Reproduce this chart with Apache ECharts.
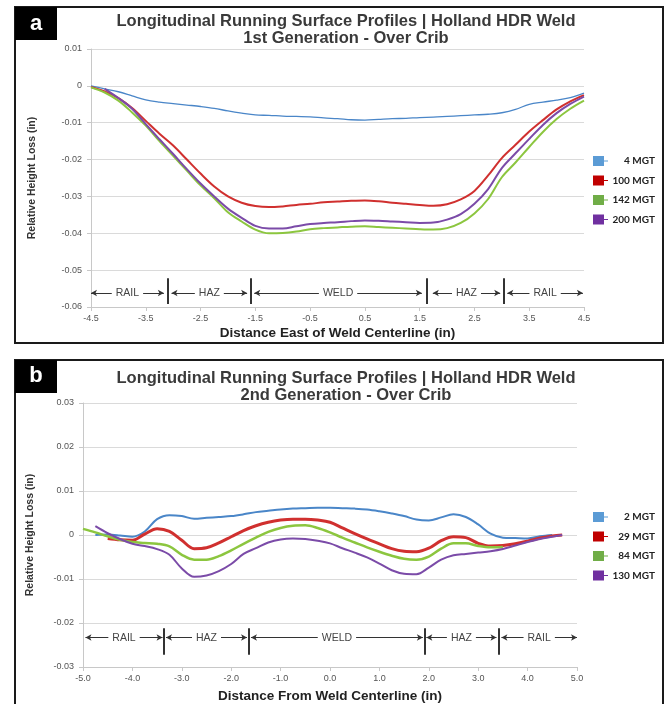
<!DOCTYPE html>
<html><head><meta charset="utf-8">
<script src="https://cdn.jsdelivr.net/npm/echarts@6/dist/echarts.min.js"></script>
<style>html,body{margin:0;padding:0;background:#fff}#c{width:668px;height:704px}</style>
</head><body><div id="c"></div>
<script>
// ---------- Panel a data ----------
const aX = [-4.5,-4.25,-4.0,-3.75,-3.5,-3.25,-3.0,-2.75,-2.5,-2.25,-2.0,-1.75,-1.5,-1.25,-1.0,-0.75,-0.5,-0.25,0,0.25,0.5,0.75,1.0,1.25,1.5,1.75,2.0,2.25,2.5,2.75,3.0,3.25,3.5,3.75,4.0,4.25,4.5];
const aNames = ['4 MGT','100 MGT','142 MGT','200 MGT'];
const a4   = [0,-0.0008,-0.0016,-0.0027,-0.0038,-0.0044,-0.0048,-0.0052,-0.0056,-0.0061,-0.0068,-0.0074,-0.0079,-0.0080,-0.0082,-0.0083,-0.0084,-0.0087,-0.0089,-0.0092,-0.0093,-0.0091,-0.0089,-0.0088,-0.0086,-0.0085,-0.0083,-0.0081,-0.0079,-0.0077,-0.0073,-0.0064,-0.0050,-0.0044,-0.0039,-0.0032,-0.0020];
const a100 = [-0.0003,-0.0015,-0.0033,-0.0060,-0.0095,-0.0130,-0.0162,-0.0200,-0.0238,-0.0273,-0.0300,-0.0317,-0.0326,-0.0329,-0.0327,-0.0323,-0.0320,-0.0316,-0.0314,-0.0312,-0.0311,-0.0313,-0.0317,-0.0320,-0.0323,-0.0325,-0.0321,-0.0308,-0.0285,-0.0243,-0.0196,-0.0160,-0.0124,-0.0093,-0.0064,-0.0042,-0.0025];
const a142 = [-0.0004,-0.0018,-0.0040,-0.0072,-0.0108,-0.0150,-0.0190,-0.0230,-0.0270,-0.0305,-0.0343,-0.0368,-0.0390,-0.0400,-0.0399,-0.0395,-0.0389,-0.0386,-0.0384,-0.0382,-0.0381,-0.0383,-0.0385,-0.0387,-0.0389,-0.0390,-0.0386,-0.0372,-0.0346,-0.0307,-0.0248,-0.0208,-0.0166,-0.0125,-0.0090,-0.0062,-0.0040];
const a200 = [null,-0.0008,-0.0033,-0.0062,-0.0104,-0.0145,-0.0185,-0.0226,-0.0265,-0.0300,-0.0333,-0.0358,-0.0380,-0.0387,-0.0387,-0.0381,-0.0375,-0.0372,-0.0370,-0.0367,-0.0365,-0.0366,-0.0368,-0.0370,-0.0372,-0.0371,-0.0363,-0.0348,-0.0320,-0.0280,-0.0223,-0.0183,-0.0144,-0.0106,-0.0074,-0.0049,-0.0029];
const aZoneNames = ['RAIL','HAZ','WELD','HAZ','RAIL'];
const aZoneStart = [-4.5,-3.03,-1.52,1.74,3.1];
const aZoneEnd   = [-3.17,-1.65,1.54,2.97,4.48];
const aBounds = [-3.1,-1.58,1.63,3.04];

// ---------- Panel b data ----------
const bX = [-5.0,-4.75,-4.5,-4.25,-4.0,-3.75,-3.5,-3.25,-3.0,-2.75,-2.5,-2.25,-2.0,-1.75,-1.5,-1.25,-1.0,-0.75,-0.5,-0.25,0,0.25,0.5,0.75,1.0,1.25,1.5,1.75,2.0,2.25,2.5,2.75,3.0,3.25,3.5,3.75,4.0,4.25,4.5,4.7];
const bNames = ['2 MGT','29 MGT','84 MGT','130 MGT'];
const b2   = [null,0.0000,0.0001,-0.0001,-0.0004,0.0008,0.0036,0.0045,0.0043,0.0037,0.0039,0.0041,0.0043,0.0047,0.0052,0.0055,0.0058,0.0060,0.0061,0.0062,0.0062,0.0061,0.0060,0.0058,0.0054,0.0049,0.0043,0.0035,0.0033,0.0040,0.0047,0.0041,0.0024,0.0003,-0.0006,-0.0007,-0.0008,-0.0003,0.0000,null];
const b29  = [null,null,-0.0008,-0.0011,-0.0012,0.0002,0.0014,0.0008,-0.0012,-0.0031,-0.0029,-0.0018,-0.0004,0.0010,0.0021,0.0029,0.0034,0.0036,0.0036,0.0034,0.0029,0.0016,0.0003,-0.0009,-0.0020,-0.0031,-0.0037,-0.0038,-0.0030,-0.0013,-0.0004,-0.0006,-0.0019,-0.0025,-0.0024,-0.0020,-0.0014,-0.0007,-0.0002,0.0000];
const b84  = [0.0014,0.0006,-0.0003,-0.0011,-0.0016,-0.0018,-0.0020,-0.0026,-0.0045,-0.0056,-0.0056,-0.0048,-0.0035,-0.0020,-0.0006,0.0007,0.0016,0.0021,0.0022,0.0016,0.0006,-0.0006,-0.0017,-0.0028,-0.0038,-0.0047,-0.0054,-0.0056,-0.0049,-0.0031,-0.0019,-0.0019,-0.0025,-0.0028,-0.0027,null,null,null,null,null];
const b130 = [null,0.0020,0.0004,-0.0009,-0.0020,-0.0025,-0.0032,-0.0045,-0.0076,-0.0095,-0.0092,-0.0082,-0.0066,-0.0043,-0.0030,-0.0017,-0.0010,-0.0008,-0.0009,-0.0013,-0.0019,-0.0030,-0.0040,-0.0051,-0.0065,-0.0080,-0.0088,-0.0089,-0.0074,-0.0056,-0.0046,-0.0043,-0.0040,-0.0037,-0.0032,-0.0024,-0.0016,-0.0009,-0.0004,0.0000];
const bZoneNames = ['RAIL','HAZ','WELD','HAZ','RAIL'];
const bZoneStart = [-4.95,-3.32,-1.6,1.95,3.47];
const bZoneEnd   = [-3.39,-1.68,1.88,3.37,5.0];
const bBounds = [-3.36,-1.64,1.92,3.42];

// ---------- styles ----------
const lineColors = ['#4a86c8','#d0302f','#8cc63f','#7b4ba8'];
const legendColors = ['#5b9bd5','#c00000','#70ad47','#7030a0'];
const FONT = 'Liberation Sans';

function pairs(xs, ys){ return xs.map((x,i)=>[x, ys[i]]); }
function fmtY(v){ return String(Math.round(v*100)/100); }

function zoneLines(names, starts, ends, bounds, yArrow, yTop, yBot){
  const d = [];
  names.forEach((n,i)=>{
    d.push([{name:n, coord:[starts[i], yArrow]}, {coord:[ends[i], yArrow]}]);
  });
  bounds.forEach(b=>{
    d.push([{name:'', coord:[b, yTop], symbol:'none', lineStyle:{width:2, color:'#333'}, label:{show:false}},
            {coord:[b, yBot], symbol:'none'}]);
  });
  return d;
}

function markLineCfg(data){
  return {
    silent:true, animation:false,
    symbol:['arrow','arrow'], symbolSize:[5,6],
    lineStyle:{color:'#333', width:1, type:'solid'},
    label:{show:true, position:'middle', distance:-6, formatter:'{b}', color:'#444', fontSize:10.5, fontFamily:FONT,
           backgroundColor:'#fff', padding:[0,4]},
    emphasis:{disabled:true},
    data:data
  };
}

const widthsA = [1.3,2,2,2];
const widthsB = [2,3,2.5,2];
const aData = [a4,a100,a142,a200];
const bData = [b2,b29,b84,b130];

const series = [];
aNames.forEach((n,i)=>{
  const s = {type:'line', name:n, xAxisIndex:0, yAxisIndex:0, data:pairs(aX,aData[i]), showSymbol:false, smooth:0.35,
    lineStyle:{color:lineColors[i], width:widthsA[i]}, itemStyle:{color:lineColors[i]}};
  if(i===0) s.markLine = markLineCfg(zoneLines(aZoneNames,aZoneStart,aZoneEnd,aBounds,-0.0562,-0.0522,-0.0592));
  series.push(s);
});
bNames.forEach((n,i)=>{
  const s = {type:'line', name:n, xAxisIndex:1, yAxisIndex:1, data:pairs(bX,bData[i]), showSymbol:false, smooth:0.35,
    lineStyle:{color:lineColors[i], width:widthsB[i]}, itemStyle:{color:lineColors[i]}};
  if(i===0) s.markLine = markLineCfg(zoneLines(bZoneNames,bZoneStart,bZoneEnd,bBounds,-0.0233,-0.0212,-0.0272));
  series.push(s);
});

function yAxisCfg(idx, min, max, gap){
  return {gridIndex:idx, type:'value', min:min, max:max, interval:0.01,
    name:'Relative Height Loss (in)', nameLocation:'middle', nameGap:gap,
    nameTextStyle:{fontWeight:'bold', fontSize:10.5, fontFamily:FONT, color:'#333'},
    axisLine:{show:true, onZero:false, lineStyle:{color:'#c8c8c8'}},
    axisTick:{show:true, length:4, lineStyle:{color:'#c8c8c8'}},
    axisLabel:{fontSize:9, color:'#555', fontFamily:FONT, margin:9, formatter:fmtY},
    splitLine:{show:true, lineStyle:{color:'#dadada', width:1.2}}};
}
function xAxisCfg(idx, min, max, name, gap, dec){
  return {gridIndex:idx, type:'value', min:min, max:max, interval:1,
    name:name, nameLocation:'middle', nameGap:gap,
    nameTextStyle:{fontWeight:'bold', fontSize:13.5, fontFamily:FONT, color:'#222'},
    axisLine:{show:true, onZero:false, lineStyle:{color:'#c8c8c8'}},
    axisTick:{show:true, length:4, lineStyle:{color:'#c8c8c8'}},
    axisLabel:{fontSize:9, color:'#555', fontFamily:FONT, margin:7, formatter:v=>v.toFixed(dec)},
    splitLine:{show:false}};
}

function legendCfg(names, top){
  return {data:names.map((n,i)=>({name:n, itemStyle:{color:legendColors[i]}})),
    orient:'vertical', left:593, top:top, padding:0, itemWidth:15, itemHeight:11, itemGap:9.5,
    icon:'path://M0,0H11V10H0Z M11,4.5H15V5.5H11Z', selectedMode:false,
    formatter:n=>'{r|'+n+'}',
    textStyle:{rich:{r:{width:42, align:'right', fontWeight:'bold', fontSize:10, fontFamily:'Lato', color:'#222'}}}};
}

const titleStyle = {fontSize:16.5, fontWeight:'bold', fontFamily:FONT, color:'#3a3a3a', lineHeight:17};

const option = {
  animation:false,
  backgroundColor:'#fff',
  title:[
    {text:'Longitudinal Running Surface Profiles | Holland HDR Weld\n1st Generation - Over Crib', left:341, top:8, textAlign:'center', textStyle:titleStyle},
    {text:'Longitudinal Running Surface Profiles | Holland HDR Weld\n2nd Generation - Over Crib', left:341, top:365, textAlign:'center', textStyle:titleStyle}
  ],
  legend:[legendCfg(aNames,156), legendCfg(bNames,512)],
  grid:[
    {left:91, right:84, top:49, height:258},
    {left:83, right:91, top:403, height:266}
  ],
  xAxis:[
    xAxisCfg(0,-4.5,4.5,'Distance East of Weld Centerline (in)',19,1),
    xAxisCfg(1,-5,5,'Distance From Weld Centerline (in)',22,1)
  ],
  yAxis:[ yAxisCfg(0,-0.06,0.01,53), yAxisCfg(1,-0.03,0.03,47) ],
  graphic:[
    {type:'rect', shape:{x:15,y:7,width:648,height:336}, style:{fill:'none', stroke:'#1a1a1a', lineWidth:2}, silent:true},
    {type:'rect', shape:{x:15,y:7,width:42,height:33}, style:{fill:'#000'}, silent:true},
    {type:'text', x:36, y:24, style:{text:'a', fill:'#fff', font:'bold 22px "Liberation Sans"', textAlign:'center', textVerticalAlign:'middle'}, silent:true},
    {type:'rect', shape:{x:15,y:360,width:648,height:360}, style:{fill:'none', stroke:'#1a1a1a', lineWidth:2}, silent:true},
    {type:'rect', shape:{x:15,y:360,width:42,height:33}, style:{fill:'#000'}, silent:true},
    {type:'text', x:36, y:376, style:{text:'b', fill:'#fff', font:'bold 22px "Liberation Sans"', textAlign:'center', textVerticalAlign:'middle'}, silent:true}
  ],
  series:series
};
const chart = echarts.init(document.getElementById('c'), null, {renderer:'canvas'});
chart.setOption(option);
</script></body></html>
